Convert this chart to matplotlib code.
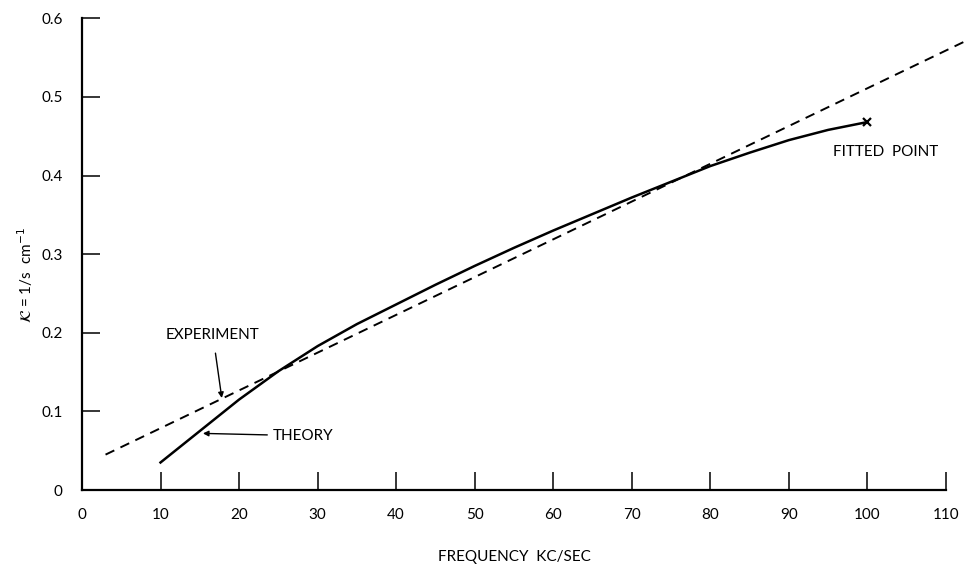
import matplotlib.pyplot as plt
import numpy as np

# experiment: straight dashed line (end points)
exp_freq = [3.0, 112.5]
exp_k = [0.045, 0.571]

# theory curve
theory_freq = [10, 15, 20, 25, 30, 35, 40, 45, 50, 55, 60, 65, 70, 75, 80,
               85, 90, 95, 100]
theory_k = [0.035, 0.075, 0.115, 0.151, 0.183, 0.211, 0.236, 0.261, 0.285,
            0.308, 0.330, 0.351, 0.372, 0.392, 0.412, 0.429, 0.445, 0.458,
            0.468]

fitted_freq = 100
fitted_k = 0.468

x_ticks = list(range(0, 111, 10))
y_ticks = [0, 0.1, 0.2, 0.3, 0.4, 0.5, 0.6]
y_tick_labels = ["0", "0.1", "0.2", "0.3", "0.4", "0.5", "0.6"]

plt.rcParams["font.family"] = ["Lato", "DejaVu Sans"]

fig = plt.figure(figsize=(9.69, 5.67), dpi=100)
ax = fig.add_axes([0.0846, 0.1358, 0.8916, 0.832])

ax.plot(exp_freq, exp_k, color="black", lw=1.4, dashes=(5, 3.5), clip_on=False)
ax.plot(theory_freq, theory_k, color="black", lw=1.8, clip_on=False)
ax.plot([fitted_freq], [fitted_k], marker="x", color="black", ms=6, mew=1.6,
        clip_on=False)

ax.set_xlim(0, 110)
ax.set_ylim(0, 0.6)
ax.set_xticks(x_ticks)
ax.set_xticklabels([str(t) for t in x_ticks])
ax.set_yticks(y_ticks)
ax.set_yticklabels(y_tick_labels)

for side in ("top", "right"):
    ax.spines[side].set_visible(False)
for side in ("left", "bottom"):
    ax.spines[side].set_linewidth(1.6)
ax.tick_params(axis="both", direction="in", length=13, width=1.1,
               labelsize=11)
ax.tick_params(axis="x", pad=13)
ax.tick_params(axis="y", pad=14)

ax.set_xlabel("FREQUENCY  KC/SEC", fontsize=11, labelpad=20)
ax.set_ylabel(r"$\mathcal{K}$ = 1/s  cm$^{-1}$", fontsize=11)
ax.yaxis.set_label_coords(-0.054, 0.455)

ax.annotate("EXPERIMENT", xy=(17.8, 0.117), xytext=(10.7, 0.197),
            fontsize=11, ha="left", va="center",
            arrowprops=dict(arrowstyle="-|>", color="black", lw=1.0,
                            shrinkA=6, shrinkB=0, mutation_scale=8))
ax.annotate("THEORY", xy=(15.4, 0.072), xytext=(24.3, 0.069),
            fontsize=11, ha="left", va="center",
            arrowprops=dict(arrowstyle="-|>", color="black", lw=1.0,
                            shrinkA=2, shrinkB=0, mutation_scale=8))
ax.text(95.6, 0.430, "FITTED  POINT", fontsize=11, ha="left", va="center")

fig.savefig("out.png", dpi=100)
